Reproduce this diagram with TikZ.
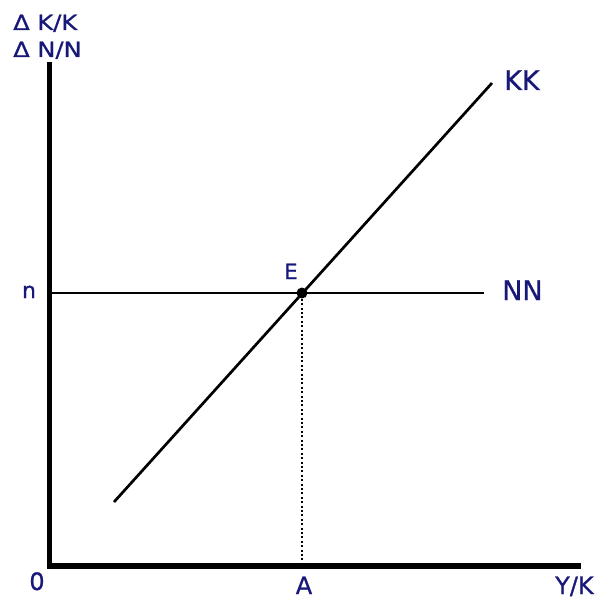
\documentclass[tikz,border=0pt]{standalone}
\usepackage{fontspec}
\setmainfont[FakeBold=0.8]{DejaVu Sans}
\definecolor{labnavy}{RGB}{24,24,120}
\begin{document}
\begin{tikzpicture}[x=1pt,y=-1pt,
  axisline/.style={line width=5.5pt,black,line cap=butt},
  curveline/.style={line width=2.7pt,black},
  guide/.style={line width=2.2pt,black,dash pattern=on 2pt off 2.4pt},
  lab/.style={text=labnavy,inner sep=0pt,anchor=base},
  bigfont/.style={font=\fontsize{27}{27}\selectfont},
  midfont/.style={font=\fontsize{24}{24}\selectfont},
  smallfont/.style={font=\fontsize{21}{21}\selectfont}]
\useasboundingbox (0,0) rectangle (599,599);
% coordinates
\coordinate (O) at (49.5,566);
\coordinate (ytop) at (49.5,62);
\coordinate (xend) at (581,566);
\coordinate (nstart) at (49.5,293);
\coordinate (nend) at (484,293);
\coordinate (kstart) at (114,502);
\coordinate (kend) at (492,83);
\coordinate (Abot) at (302,566);
% axes
\draw[axisline] (ytop) -- (O) -- (xend);
% curves
\draw[curveline] (nstart) -- (nend);
\draw[curveline] (kstart) -- (kend);
\node[circle,fill=black,inner sep=0pt,minimum size=11pt] (E) at (302,293) {};
\draw[guide] (E) -- (Abot);
% labels
\node[lab,smallfont,anchor=base west,xscale=1.15] (lk) at (13,30) {Δ K/K};
\node[lab,smallfont,anchor=base west,xscale=1.15] (ln) at (13,57) {Δ N/N};
\node[lab,bigfont,anchor=base west] (lKK) at (504,90) {KK};
\node[lab,bigfont,anchor=base west] (lNN) at (502,300) {NN};
\node[lab,font=\fontsize{21}{21}\selectfont] (lE) at (291,279) {E};
\node[lab,font=\fontsize{22}{22}\selectfont] (lnn) at (29,298) {n};
\node[lab,midfont] (l0) at (37,590) {0};
\node[lab,midfont] (lA) at (304,594) {A};
\node[lab,font=\fontsize{24}{24}\selectfont,anchor=base west] (lYK) at (555,594) {Y/K};
\end{tikzpicture}
\end{document}
